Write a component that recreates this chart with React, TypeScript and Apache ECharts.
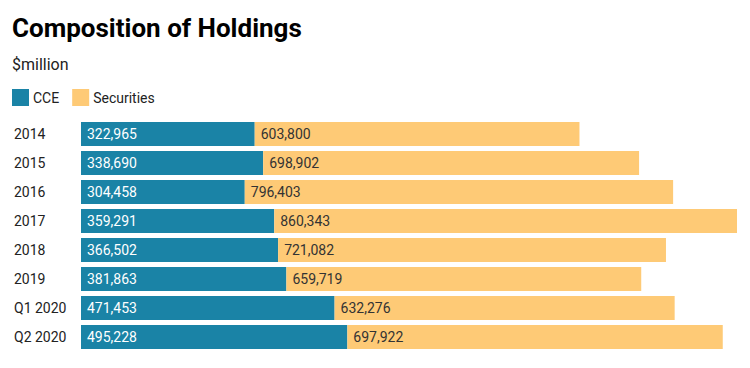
import React, { useEffect, useRef } from "react";
import * as echarts from "echarts";

const categories = ["2014", "2015", "2016", "2017", "2018", "2019", "Q1 2020", "Q2 2020"];
const cce = [322965, 338690, 304458, 359291, 366502, 381863, 471453, 495228];
const securities = [603800, 698902, 796403, 860343, 721082, 659719, 632276, 697922];
const seriesNames = ["CCE", "Securities"];
const titleText = "Composition of Holdings";
const subtitleText = "$million";

const fmt = (v: number) => v.toLocaleString("en-US");

export default function App() {
  const ref = useRef<HTMLDivElement>(null);
  useEffect(() => {
    if (!ref.current) return;
    const chart = echarts.init(ref.current, null, { renderer: "svg" });
    const maxTotal = Math.max(...cce.map((v, i) => v + securities[i]));
    const font = "Roboto";
    chart.setOption({
      animation: false,
      textStyle: { fontFamily: font },
      title: [
        {
          text: titleText,
          left: 12,
          top: 15,
          padding: 0,
          textStyle: { fontFamily: font, fontSize: 26, fontWeight: "bold", color: "#000" },
        },
        {
          text: subtitleText,
          left: 12,
          top: 56,
          padding: 0,
          textStyle: { fontFamily: font, fontSize: 16, fontWeight: "normal", color: "#222" },
        },
      ],
      legend: {
        left: 12,
        top: 89,
        padding: 0,
        itemWidth: 17,
        itemHeight: 17,
        itemGap: 13,
        icon: "rect",
        textStyle: { fontFamily: font, fontSize: 14, color: "#222", padding: [0, 0, 0, -1] },
        data: seriesNames,
      },
      grid: { left: 81, right: 13, top: 119.5, bottom: 16.5, containLabel: false },
      xAxis: {
        type: "value",
        min: 0,
        max: maxTotal,
        show: false,
      },
      yAxis: {
        type: "category",
        data: categories,
        inverse: true,
        axisLine: { show: false },
        axisTick: { show: false },
        axisLabel: {
          align: "left",
          margin: 67,
          fontFamily: font,
          fontSize: 14,
          color: "#222",
        },
      },
      series: [
        {
          name: seriesNames[0],
          type: "bar",
          stack: "total",
          data: cce,
          barCategoryGap: "17%",
          itemStyle: { color: "#1A83A6" },
          label: {
            show: true,
            position: "insideLeft",
            distance: 6,
            color: "#fff",
            fontFamily: font,
            fontSize: 14,
            formatter: (p: any) => fmt(p.value),
          },
        },
        {
          name: seriesNames[1],
          type: "bar",
          stack: "total",
          data: securities,
          barCategoryGap: "17%",
          itemStyle: { color: "#FECA76" },
          label: {
            show: true,
            position: "insideLeft",
            distance: 6,
            color: "#333",
            fontFamily: font,
            fontSize: 14,
            formatter: (p: any) => fmt(p.value),
          },
        },
      ],
    });
    return () => chart.dispose();
  }, []);
  return <div ref={ref} style={{ width: 750, height: 368, position: "absolute", left: 0, top: 0 }} />;
}
